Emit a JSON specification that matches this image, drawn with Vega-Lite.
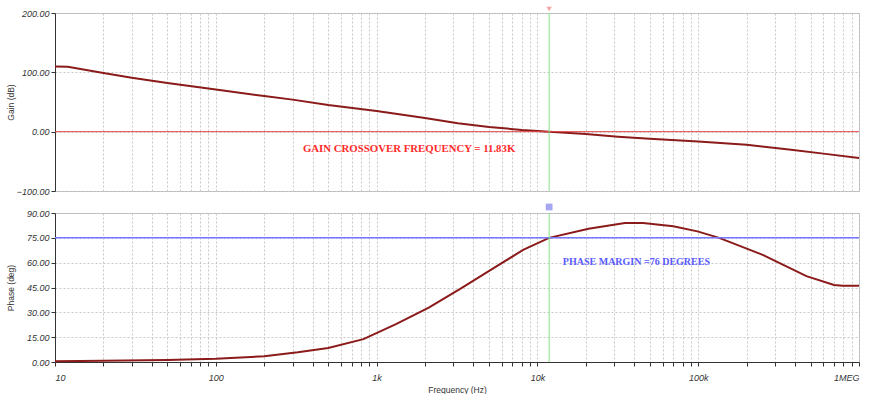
{
  "$schema": "https://vega.github.io/schema/vega-lite/v6.json",
  "background": "white",
  "padding": {"left": 5, "top": 6, "right": 0, "bottom": 0},
  "bounds": "flush",
  "spacing": 22,
  "config": {
    "view": {"stroke": "#b8b8b8", "strokeWidth": 1},
    "axis": {
      "labelFont": "Liberation Sans", "labelFontStyle": "italic", "labelFontSize": 9, "labelColor": "#333333",
      "titleFont": "Liberation Sans", "titleFontSize": 8.5, "titleFontWeight": "normal", "titleColor": "#333333",
      "domainColor": "#333333", "tickColor": "#333333", "tickSize": 4,
      "gridColor": "#c9c9c9", "gridDash": [2, 2], "gridWidth": 1
    }
  },
  "datasets": {
    "gain": [
      {"f": 10, "g": 110}, {"f": 12, "g": 109.5}, {"f": 20, "g": 99}, {"f": 30, "g": 91},
      {"f": 50, "g": 82}, {"f": 100, "g": 71}, {"f": 200, "g": 60}, {"f": 300, "g": 54},
      {"f": 500, "g": 45}, {"f": 1000, "g": 35}, {"f": 2000, "g": 23}, {"f": 3200, "g": 14},
      {"f": 5000, "g": 8}, {"f": 8000, "g": 3}, {"f": 11830, "g": 0}, {"f": 20000, "g": -4},
      {"f": 31700, "g": -8.4}, {"f": 50000, "g": -12}, {"f": 100000, "g": -16.7}, {"f": 200000, "g": -22},
      {"f": 378000, "g": -30.6}, {"f": 600000, "g": -37}, {"f": 1000000, "g": -44.5}
    ],
    "phase": [
      {"f": 10, "p": 0.5}, {"f": 20, "p": 0.7}, {"f": 50, "p": 1.2}, {"f": 100, "p": 2},
      {"f": 200, "p": 3.5}, {"f": 324, "p": 5.9}, {"f": 500, "p": 8.5}, {"f": 828, "p": 13.8},
      {"f": 1320, "p": 22.9}, {"f": 2110, "p": 32.8}, {"f": 3370, "p": 44.6}, {"f": 5370, "p": 56.8},
      {"f": 8150, "p": 67.7}, {"f": 11830, "p": 75}, {"f": 20800, "p": 80.5}, {"f": 35000, "p": 84},
      {"f": 45400, "p": 83.9}, {"f": 70000, "p": 82}, {"f": 98900, "p": 78.9}, {"f": 135000, "p": 75},
      {"f": 252000, "p": 64.7}, {"f": 471000, "p": 51.9}, {"f": 700000, "p": 46.5}, {"f": 791000, "p": 46},
      {"f": 1000000, "p": 46}
    ],
    "gainAnn": [{"f": 348, "g": -29, "label": "GAIN CROSSOVER FREQUENCY = 11.83K"}],
    "phaseAnn": [{"f": 14400, "p": 60.5, "label": "PHASE MARGIN =76 DEGREES"}],
    "cross": [{"f": 11830}]
  },
  "vconcat": [
    {
      "width": 804,
      "height": 178,
      "layer": [
        {
          "data": {"name": "gain"},
          "mark": {"type": "line", "color": "#8b1a1a", "strokeWidth": 2},
          "encoding": {
            "x": {"field": "f", "type": "quantitative",
              "scale": {"type": "log", "domain": [10, 1000000], "nice": false},
              "axis": {"values": [10,20,30,40,50,60,70,80,90,100,200,300,400,500,600,700,800,900,1000,2000,3000,4000,5000,6000,7000,8000,9000,10000,20000,30000,40000,50000,60000,70000,80000,90000,100000,200000,300000,400000,500000,600000,700000,800000,900000,1000000],
                "labels": false, "ticks": false, "domain": false, "title": null, "grid": true}},
            "y": {"field": "g", "type": "quantitative",
              "scale": {"domain": [-100, 200], "nice": false, "zero": false},
              "axis": {"orient": "left", "values": [-100, 0, 100, 200], "format": ".2f", "labelOverlap": false,
                "title": "Gain (dB)", "titleX": -40, "grid": true}}
          }
        },
        {
          "data": {"values": [{}]},
          "mark": {"type": "rule", "color": "#e04848", "strokeWidth": 1},
          "encoding": {"y": {"datum": 0, "type": "quantitative",
            "axis": {"orient": "left", "values": [-100, 0, 100, 200], "format": ".2f", "labelOverlap": false,
              "title": "Gain (dB)", "titleX": -40, "grid": true}}}
        },
        {
          "data": {"name": "cross"},
          "mark": {"type": "rule", "color": "#86e086", "strokeWidth": 1},
          "encoding": {"x": {"field": "f", "type": "quantitative"}}
        },
        {
          "data": {"name": "cross"},
          "mark": {"type": "point", "shape": "triangle-down", "filled": true, "color": "#f08080", "size": 30, "yOffset": -4},
          "encoding": {"x": {"field": "f", "type": "quantitative"}, "y": {"datum": 200, "type": "quantitative",
            "axis": {"orient": "left", "values": [-100, 0, 100, 200], "format": ".2f", "labelOverlap": false,
              "title": "Gain (dB)", "titleX": -40, "grid": true}}}
        },
        {
          "data": {"name": "gainAnn"},
          "mark": {"type": "text", "align": "left", "baseline": "middle", "font": "Liberation Serif", "fontWeight": "bold", "fontSize": 10.8, "color": "#ff2a2a"},
          "encoding": {"x": {"field": "f", "type": "quantitative"}, "y": {"field": "g", "type": "quantitative",
            "axis": {"orient": "left", "values": [-100, 0, 100, 200], "format": ".2f", "labelOverlap": false,
              "title": "Gain (dB)", "titleX": -40, "grid": true}}, "text": {"field": "label"}}
        }
      ]
    },
    {
      "width": 804,
      "height": 149,
      "layer": [
        {
          "data": {"name": "phase"},
          "mark": {"type": "line", "color": "#8b1a1a", "strokeWidth": 2},
          "encoding": {
            "x": {"field": "f", "type": "quantitative",
              "scale": {"type": "log", "domain": [10, 1000000], "nice": false},
              "axis": {"values": [10,20,30,40,50,60,70,80,90,100,200,300,400,500,600,700,800,900,1000,2000,3000,4000,5000,6000,7000,8000,9000,10000,20000,30000,40000,50000,60000,70000,80000,90000,100000,200000,300000,400000,500000,600000,700000,800000,900000,1000000],
                "labelExpr": "datum.value == 10 ? '10' : datum.value == 100 ? '100' : datum.value == 1000 ? '1k' : datum.value == 10000 ? '10k' : datum.value == 100000 ? '100k' : datum.value == 1000000 ? '1MEG' : ''",
                "labelOverlap": false, "labelPadding": 7, "title": "Frequency (Hz)", "titlePadding": 3, "grid": true}},
            "y": {"field": "p", "type": "quantitative",
              "scale": {"domain": [0, 90], "nice": false, "zero": false},
              "axis": {"orient": "left", "values": [0, 15, 30, 45, 60, 75, 90], "format": ".2f", "labelOverlap": false,
                "title": "Phase (deg)", "titleX": -40, "grid": true}}
          }
        },
        {
          "data": {"values": [{}]},
          "mark": {"type": "rule", "color": "#7878ff", "strokeWidth": 1.5},
          "encoding": {"y": {"datum": 75, "type": "quantitative",
            "axis": {"orient": "left", "values": [0, 15, 30, 45, 60, 75, 90], "format": ".2f", "labelOverlap": false,
              "title": "Phase (deg)", "titleX": -40, "grid": true}}}
        },
        {
          "data": {"name": "cross"},
          "mark": {"type": "rule", "color": "#86e086", "strokeWidth": 1},
          "encoding": {"x": {"field": "f", "type": "quantitative"}}
        },
        {
          "data": {"name": "cross"},
          "mark": {"type": "point", "shape": "square", "filled": true, "color": "#8080f0", "size": 45, "yOffset": -6},
          "encoding": {"x": {"field": "f", "type": "quantitative"}, "y": {"datum": 90, "type": "quantitative",
            "axis": {"orient": "left", "values": [0, 15, 30, 45, 60, 75, 90], "format": ".2f", "labelOverlap": false,
              "title": "Phase (deg)", "titleX": -40, "grid": true}}}
        },
        {
          "data": {"name": "phaseAnn"},
          "mark": {"type": "text", "align": "left", "baseline": "middle", "font": "Liberation Serif", "fontWeight": "bold", "fontSize": 10, "color": "#5a5aff"},
          "encoding": {"x": {"field": "f", "type": "quantitative"}, "y": {"field": "p", "type": "quantitative",
            "axis": {"orient": "left", "values": [0, 15, 30, 45, 60, 75, 90], "format": ".2f", "labelOverlap": false,
              "title": "Phase (deg)", "titleX": -40, "grid": true}}, "text": {"field": "label"}}
        }
      ]
    }
  ]
}
